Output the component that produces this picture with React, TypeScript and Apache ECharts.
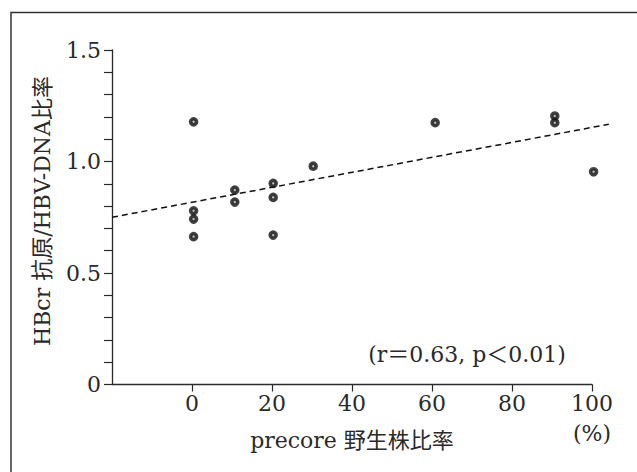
import React, { useEffect, useRef } from "react";
import * as echarts from "echarts";

const xValues = [0.4, 0.4, 0.4, 0.4, 10.7, 10.7, 20.3, 20.3, 20.3, 30.3, 60.8, 90.7, 90.7, 100.4];
const yValues = [1.178, 0.779, 0.742, 0.663, 0.872, 0.818, 0.902, 0.839, 0.67, 0.979, 1.174, 1.204, 1.174, 0.954];
const regressionX = [-20, 104.2];
const regressionY = [0.75, 1.167];
const xTicks = [0, 20, 40, 60, 80, 100];
const yTickLabels = ["0", "0.5", "1.0", "1.5"];
const xAxisName = "precore 野生株比率";
const yAxisName = "HBcr 抗原/HBV-DNA比率";
const annotation = "(r＝0.63, p＜0.01)";
const unitLabel = "(%)";

const FONT = "'DejaVu Serif', 'Noto Sans CJK JP', serif";
const INK = "#2a2a2a";
const FS = 22;

export default function App() {
  const ref = useRef<HTMLDivElement>(null);
  useEffect(() => {
    if (!ref.current) return;
    const chart = echarts.init(ref.current, null, { renderer: "svg" });
    const points = xValues.map((x, i) => [x, yValues[i]]);
    const regItem = [regressionX[0], regressionY[0], regressionX[1], regressionY[1]];
    chart.setOption({
      animation: false,
      backgroundColor: "#fff",
      grid: { left: 112, right: 45, top: 50, bottom: 87.5 },
      xAxis: {
        type: "value",
        min: -20,
        max: 100,
        interval: 20,
        axisLine: { show: true, onZero: false, lineStyle: { color: INK, width: 1.3 } },
        axisTick: { show: true, inside: false, length: 7, customValues: xTicks, lineStyle: { color: INK, width: 1.2 } },
        axisLabel: {
          customValues: xTicks,
          margin: 8,
          color: INK,
          fontFamily: FONT,
          fontSize: FS,
        },
        splitLine: { show: false },
        name: xAxisName,
        nameLocation: "middle",
        nameGap: 45,
        nameTextStyle: { color: INK, fontFamily: FONT, fontSize: FS },
      },
      yAxis: {
        type: "value",
        min: 0,
        max: 1.5,
        interval: 0.5,
        axisLine: { show: true, onZero: false, lineStyle: { color: INK, width: 1.3 } },
        axisTick: { show: true, inside: false, length: 8, lineStyle: { color: INK, width: 1.2 } },
        minorTick: { show: true, splitNumber: 5, length: 8, lineStyle: { color: INK, width: 1.2 } },
        axisLabel: {
          margin: 11,
          color: INK,
          fontFamily: FONT,
          fontSize: FS,
          formatter: (v: number) => yTickLabels[Math.round(v / 0.5)] ?? String(v),
        },
        splitLine: { show: false },
        minorSplitLine: { show: false },
      },
      graphic: [
        {
          type: "polyline",
          shape: { points: [[11, 472], [11, 12.5], [637, 12.5]] },
          style: { stroke: "#333", lineWidth: 1.5, fill: "none" },
          silent: true,
        },
        {
          type: "text",
          x: 42,
          y: 211,
          rotation: Math.PI / 2,
          style: {
            text: yAxisName,
            fill: INK,
            font: `${FS}px ${FONT}`,
            align: "center",
            verticalAlign: "middle",
          },
        },
        {
          type: "text",
          x: 467,
          y: 354,
          style: {
            text: annotation,
            fill: INK,
            font: `${FS}px ${FONT}`,
            align: "center",
            verticalAlign: "middle",
          },
        },
        {
          type: "text",
          x: 592,
          y: 433,
          style: {
            text: unitLabel,
            fill: INK,
            font: `${FS}px ${FONT}`,
            align: "center",
            verticalAlign: "middle",
          },
        },
      ],
      series: [
        {
          type: "custom",
          data: [regItem],
          dimensions: ["x0", "y0", "x1", "y1"],
          encode: { x: [0, 2], y: [1, 3] },
          clip: false,
          silent: true,
          z: 1,
          renderItem: (params: any, api: any) => {
            const p0 = api.coord([api.value(0), api.value(1)]);
            const p1 = api.coord([api.value(2), api.value(3)]);
            return {
              type: "line",
              shape: { x1: p0[0], y1: p0[1], x2: p1[0], y2: p1[1] },
              style: { stroke: "#111", lineWidth: 1.5, lineDash: [6, 4] },
            };
          },
        },
        {
          type: "scatter",
          data: points,
          clip: false,
          symbol: "circle",
          symbolSize: 6,
          itemStyle: { color: "#aaa", borderColor: "#111", borderWidth: 3.6 },
          z: 2,
        },
      ],
    });
    return () => chart.dispose();
  }, []);
  return (
    <div
      ref={ref}
      style={{ position: "fixed", left: 0, top: 0, width: 637, height: 472, background: "#fff" }}
    />
  );
}
